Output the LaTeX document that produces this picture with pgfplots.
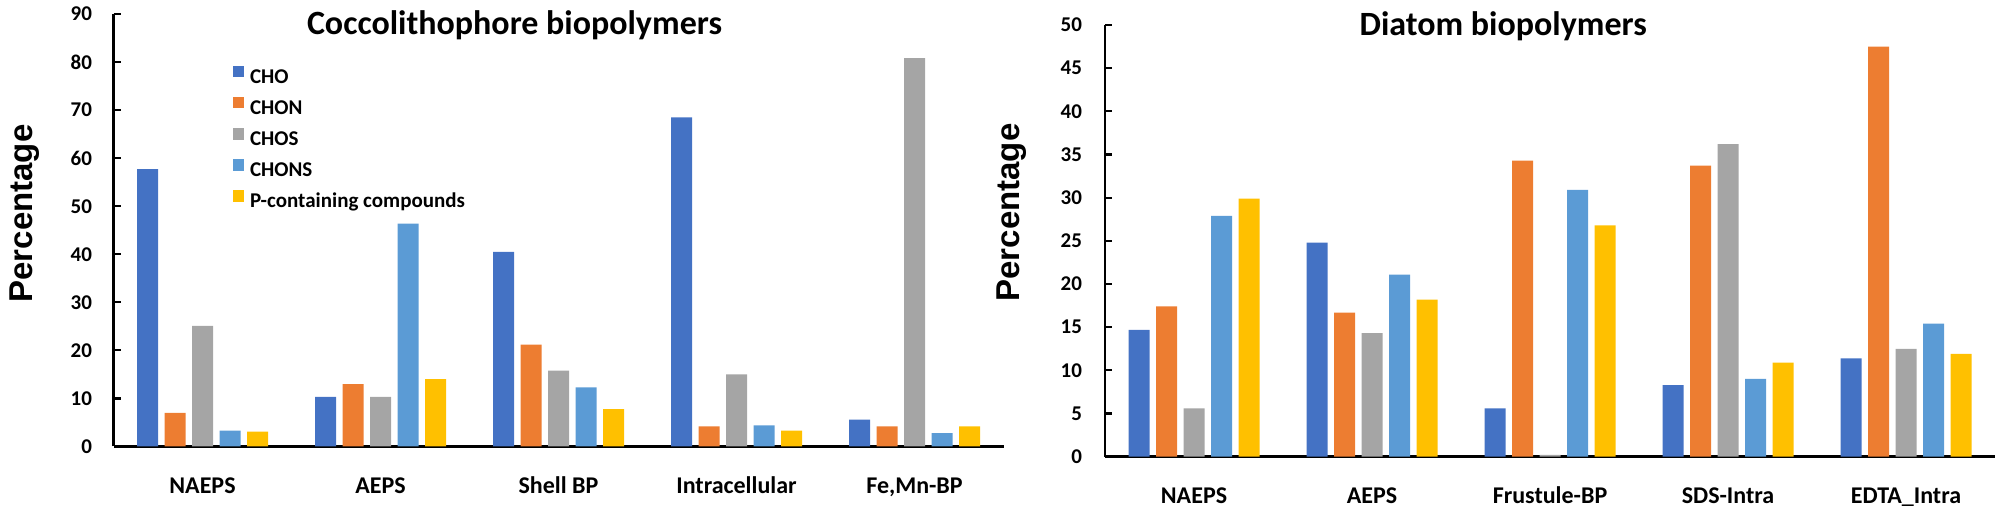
\documentclass[border=0pt]{standalone}
\usepackage{fontspec}
\setmainfont{Carlito}
\newfontfamily\arialfont{Liberation Sans}
\usepackage{pgfplots}
\usepackage{pgfplotstable}
\pgfplotsset{compat=1.18}
\definecolor{cho}{HTML}{4472C4}
\definecolor{chon}{HTML}{ED7D31}
\definecolor{chos}{HTML}{A5A5A5}
\definecolor{chons}{HTML}{5B9BD5}
\definecolor{pcomp}{HTML}{FFC000}

\pgfplotstableread{
x CHO CHON CHOS CHONS P
202.5 57.7 7.0 25.1 3.3 3.1
380.5 10.3 13.0 10.3 46.4 14.0
558.5 40.5 21.2 15.8 12.3 7.8
736.5 68.5 4.2 15.0 4.4 3.3
914.5 5.6 4.2 80.8 2.8 4.2
}\coccotable

\pgfplotstableread{
x CHO CHON CHOS CHONS P
1194 14.7 17.4 5.6 27.9 29.9
1372 24.8 16.7 14.3 21.1 18.2
1550 5.6 34.3 0.2 30.9 26.8
1728 8.3 33.7 36.2 9.0 10.9
1906 11.4 47.5 12.5 15.4 11.9
}\diatomtable

\pgfplotsset{
  panel/.style={
    scale only axis,
    axis x line=bottom,
    axis y line=left,
    axis line style={-, line width=1.25pt, black},
    ymin=0,
    xtick=data,
    x tick style={draw=none},
    y tick style={line width=1.1pt, black},
    major tick length=3.5pt,
    tick align=inside,
    /pgf/number format/assume math mode=true,
    yticklabel style={font=\bfseries\fontsize{10.5}{11}\selectfont, anchor=east},
    xticklabel style={font=\bfseries\fontsize{12}{12}\selectfont, anchor=base, yshift=-19.9pt},
    ybar=3.25pt, bar width=10.5pt,
    clip=false,
  },
}

\begin{document}
\begin{tikzpicture}
\path[use as bounding box] (0pt,0pt) rectangle (1000pt,253pt);

\begin{axis}[panel,
  at={(56.75pt,29.75pt)}, anchor=south west,
  width=445pt, height=216.25pt,
  xmin=113.5, xmax=1003.5,
  ymax=90, ytick={0,10,...,90},
  yticklabel style={xshift=-7.25pt},
  xticklabels={NAEPS,AEPS,Shell BP,Intracellular,{Fe,Mn-BP}},
  legend style={at={(axis cs:232.7,79.26)}, anchor=north west, draw=none, fill=none,
    inner sep=0pt, outer sep=0pt,
    font=\bfseries\fontsize{10.5}{11}\selectfont,
    nodes={text height=7pt, text depth=2pt, inner sep=0pt},
    row sep=4.875pt,
    /tikz/every odd column/.append style={column sep=2.85pt}},
  legend cell align=left,
  legend image code/.code={\fill[#1] (0pt,0.4pt) rectangle (5.8pt,6.2pt);},
]
\addplot[draw=none, fill=cho] table[x=x, y=CHO] {\coccotable};
\addplot[draw=none, fill=chon] table[x=x, y=CHON] {\coccotable};
\addplot[draw=none, fill=chos] table[x=x, y=CHOS] {\coccotable};
\addplot[draw=none, fill=chons] table[x=x, y=CHONS] {\coccotable};
\addplot[draw=none, fill=pcomp] table[x=x, y=P] {\coccotable};
\legend{CHO,CHON,CHOS,CHONS,P-containing compounds}
\end{axis}

\begin{axis}[panel,
  at={(552.5pt,24.65pt)}, anchor=south west,
  width=445pt, height=215.85pt,
  xmin=1105, xmax=1995,
  ymax=50, ytick={0,5,...,50},
  yticklabel style={xshift=-8pt},
  xticklabels={NAEPS,AEPS,Frustule-BP,SDS-Intra,EDTA\_Intra},
]
\addplot[draw=none, fill=cho] table[x=x, y=CHO] {\diatomtable};
\addplot[draw=none, fill=chon] table[x=x, y=CHON] {\diatomtable};
\addplot[draw=none, fill=chos] table[x=x, y=CHOS] {\diatomtable};
\addplot[draw=none, fill=chons] table[x=x, y=CHONS] {\diatomtable};
\addplot[draw=none, fill=pcomp] table[x=x, y=P] {\diatomtable};
\end{axis}

\node[anchor=base, font=\bfseries\fontsize{17}{17}\selectfont] at (257.25pt,235.5pt) {Coccolithophore biopolymers};
\node[anchor=base, font=\bfseries\fontsize{17}{17}\selectfont] at (751.6pt,235pt) {Diatom biopolymers};
\node[rotate=90, font=\arialfont\bfseries\fontsize{16.5}{16.5}\selectfont] at (12.5pt,146.25pt) {Percentage};
\node[rotate=90, font=\arialfont\bfseries\fontsize{16.5}{16.5}\selectfont] at (505.75pt,146.75pt) {Percentage};
\end{tikzpicture}
\end{document}
